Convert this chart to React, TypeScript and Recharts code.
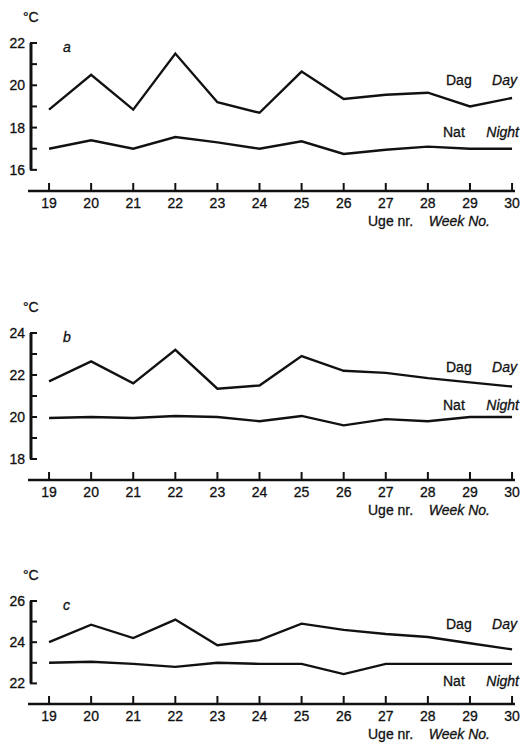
import React from 'react'
import { LineChart, Line, XAxis, YAxis, ReferenceLine } from 'recharts'

// week numbers on the x axis
const weeks = [19, 20, 21, 22, 23, 24, 25, 26, 27, 28, 29, 30]

// a
const dayA = [18.85, 20.5, 18.85, 21.5, 19.2, 18.7, 20.65, 19.35, 19.55, 19.65, 19.0, 19.4]
const nightA = [17.0, 17.4, 17.0, 17.55, 17.3, 17.0, 17.35, 16.75, 16.95, 17.1, 17.0, 17.0]
const ticksA = [16, 17, 18, 19, 20, 21, 22]

// b
const dayB = [21.7, 22.65, 21.6, 23.2, 21.35, 21.5, 22.9, 22.2, 22.1, 21.85, 21.65, 21.45]
const nightB = [19.95, 20.0, 19.95, 20.05, 20.0, 19.8, 20.05, 19.6, 19.9, 19.8, 20.0, 20.0]
const ticksB = [18, 19, 20, 21, 22, 23, 24]

// c
const dayC = [24.0, 24.85, 24.2, 25.1, 23.85, 24.1, 24.9, 24.6, 24.4, 24.25, 23.95, 23.65]
const nightC = [23.0, 23.05, 22.95, 22.8, 23.0, 22.95, 22.95, 22.45, 22.95, 22.95, 22.95, 22.95]
const ticksC = [22, 23, 24, 25, 26]

const INK = '#111'
const FONT = '"Liberation Sans", Arial, Helvetica, sans-serif'

const buildRows = (day: number[], night: number[]) =>
  weeks.map((w, i) => ({ week: w, day: day[i], night: night[i] }))

function WeekTick({ x, y, payload }: any) {
  return (
    <g>
      <line x1={x} x2={x} y1={y - 8} y2={y} stroke={INK} strokeWidth={2} />
      <text x={x} y={y + 17} textAnchor="middle" fontSize={14} fill={INK} stroke={INK} strokeWidth={0.3} fontFamily={FONT}>
        {payload.value}
      </text>
    </g>
  )
}

function TempTick({ x, y, payload }: any) {
  const labelled = payload.value % 2 === 0
  return (
    <g>
      <line x1={x + 2} x2={x + 9} y1={y} y2={y} stroke={INK} strokeWidth={2} />
      {labelled && (
        <text x={x - 3} y={y + 5} textAnchor="end" fontSize={14} fill={INK} stroke={INK} strokeWidth={0.3} fontFamily={FONT}>
          {payload.value}
        </text>
      )}
    </g>
  )
}

function Note({ x, y, children, italic, end }: any) {
  const style: React.CSSProperties = {
    position: 'absolute',
    top: y,
    transform: 'translateY(-50%)',
    fontFamily: FONT,
    fontSize: 14,
    lineHeight: '16px',
    color: INK,
    fontStyle: italic ? 'italic' : 'normal',
    whiteSpace: 'nowrap',
    WebkitTextStroke: '0.3px #111',
  }
  if (end) style.right = 530 - x
  else style.left = x
  return <div style={style}>{children}</div>
}

interface PanelProps {
  top: number
  plotHeight: number
  domain: [number, number]
  ticks: number[]
  day: number[]
  night: number[]
  letter: string
  dagY: number
  natY: number
}

function Panel({ top, plotHeight, domain, ticks, day, night, letter, dagY, natY }: PanelProps) {
  const plotTop = top + 40
  const axisY = plotTop + plotHeight
  const rows = buildRows(day, night)
  return (
    <>
      <div style={{ position: 'absolute', left: 0, top }}>
        <LineChart
          width={530}
          height={40 + plotHeight + 40}
          data={rows}
          margin={{ top: 40, right: 15, left: 0, bottom: 0 }}
        >
          <XAxis
            type="number"
            dataKey="week"
            domain={[18.5, 30.07]}
            allowDataOverflow
            ticks={weeks}
            interval={0}
            height={40}
            tickSize={0}
            tickMargin={0}
            tick={<WeekTick />}
            axisLine={{ stroke: INK, strokeWidth: 2.5 }}
          />
          <YAxis
            type="number"
            domain={domain}
            allowDataOverflow
            ticks={ticks}
            interval={0}
            width={28}
            tickSize={0}
            tickMargin={0}
            tick={<TempTick />}
            axisLine={false}
          />
          <ReferenceLine
            segment={[
              { x: 18.571, y: ticks[0] },
              { x: 18.571, y: ticks[ticks.length - 1] },
            ]}
            stroke={INK}
            strokeWidth={3}
            ifOverflow="visible"
          />
          <Line type="linear" dataKey="day" stroke={INK} strokeWidth={2.4} dot={false} isAnimationActive={false} />
          <Line type="linear" dataKey="night" stroke={INK} strokeWidth={2.4} dot={false} isAnimationActive={false} />
        </LineChart>
      </div>
      <Note x={23} y={plotTop - 26}>°C</Note>
      <Note x={63} y={plotTop + 4} italic>{letter}</Note>
      <Note x={446} y={dagY}>Dag</Note>
      <Note x={517} y={dagY} italic end>Day</Note>
      <Note x={443} y={natY}>Nat</Note>
      <Note x={519} y={natY} italic end>Night</Note>
      <Note x={368} y={axisY + 30}>Uge nr.</Note>
      <Note x={490} y={axisY + 30} italic end>Week No.</Note>
    </>
  )
}

export default function App() {
  return (
    <div style={{ position: 'absolute', left: 0, top: 0, width: 530, height: 746, background: '#fff' }}>
      <Panel top={3} plotHeight={148} domain={[15, 22]} ticks={ticksA} day={dayA} night={nightA} letter="a" dagY={80} natY={132} />
      <Panel top={293} plotHeight={147} domain={[17, 24]} ticks={ticksB} day={dayB} night={nightB} letter="b" dagY={367} natY={405} />
      <Panel top={561} plotHeight={103} domain={[21, 26]} ticks={ticksC} day={dayC} night={nightC} letter="c" dagY={624} natY={681} />
    </div>
  )
}
